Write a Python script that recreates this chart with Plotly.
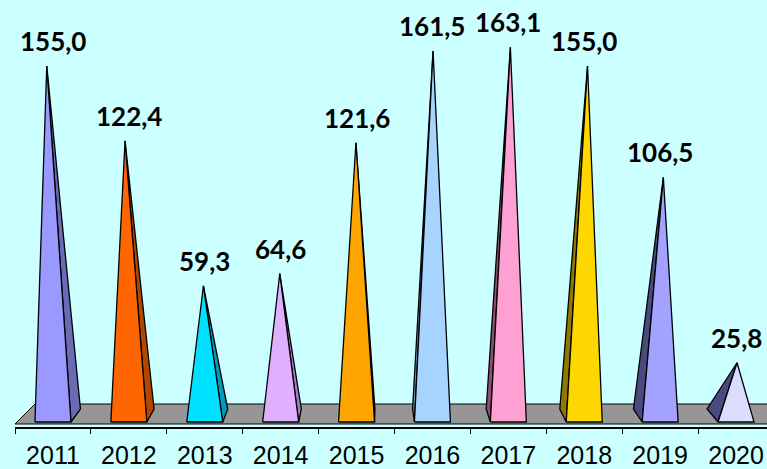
import plotly.graph_objects as go

# ---- data ----
years = ["2011", "2012", "2013", "2014", "2015", "2016", "2017", "2018", "2019", "2020"]
values = [155.0, 122.4, 59.3, 64.6, 121.6, 161.5, 163.1, 155.0, 106.5, 25.8]

front_colors = ["#9999ff", "#ff6600", "#00e0ff", "#e0b0ff", "#ffa500",
                "#a6d4ff", "#ffa0d4", "#ffd700", "#a3a3ff", "#dcdcff"]
side_colors = ["#6b6bb5", "#b34700", "#009dba", "#a97cc8", "#b37400",
               "#6f93b8", "#8c4f70", "#8f7700", "#4a4a80", "#4a4a80"]

# ---- geometry (pixel-based styling converted into axis units) ----
W, H = 767, 469
ML, MR, MT, MB = 15, 0, 0, 42
PX_X = 75.9          # pixels per category
PX_Y = 2.297         # pixels per value unit
BASE_PX = 422        # pixel row of value 0
plot_w = W - ML - MR
plot_h = H - MT - MB
x_range = [-0.5, -0.5 + plot_w / PX_X]
y_range = [-(MT + plot_h - BASE_PX) / PX_Y, (BASE_PX - MT) / PX_Y]


def px_x(dpx):
    return dpx / PX_X


def px_y(dpx):
    return dpx / PX_Y


fig = go.Figure()

# floor (grey 3D slab)
n = len(years)
floor_x = [-0.5, n - 0.5 + px_x(19), n - 0.5 + px_x(0), -0.5 + px_x(20), -0.5]
floor_y = [px_y(-2), px_y(-2), px_y(18), px_y(18), px_y(-2)]
fig.add_trace(go.Scatter(x=floor_x, y=floor_y, mode="lines", fill="toself",
                         fillcolor="#969696", line=dict(color="#000000", width=1),
                         hoverinfo="skip", showlegend=False))

half = px_x(18)
for i, v in enumerate(values):
    cx_px = ML + PX_X * (i + 0.5)
    dx = px_x(-0.03 * (cx_px - 370))
    dy = px_y(13)
    lean = px_x(5e-5 * (cx_px - 400) * v * PX_Y)
    apex = (i + lean, v)
    left, right = i - half, i + half
    # side face
    if dx >= 0:
        sx = [right, right + dx, apex[0], right]
        sy = [0, dy, apex[1], 0]
    else:
        sx = [left, left + dx, apex[0], left]
        sy = [0, dy, apex[1], 0]
    fig.add_trace(go.Scatter(x=sx, y=sy, mode="lines", fill="toself",
                             fillcolor=side_colors[i],
                             line=dict(color="#000000", width=1.3),
                             hoverinfo="skip", showlegend=False))
    # front face
    fig.add_trace(go.Scatter(x=[left, right, apex[0], left], y=[0, 0, apex[1], 0],
                             mode="lines", fill="toself", fillcolor=front_colors[i],
                             line=dict(color="#000000", width=1.3),
                             hoverinfo="skip", showlegend=False))
    fig.add_annotation(x=i, y=v, text="<b>" + f"{v:.1f}".replace(".", ",") + "</b>",
                       showarrow=False, yanchor="bottom", yshift=7,
                       font=dict(family="Lato", size=26, color="#000000"))

fig.update_layout(
    width=W, height=H,
    margin=dict(l=ML, r=MR, t=MT, b=MB, pad=0, autoexpand=False),
    paper_bgcolor="#ccffff", plot_bgcolor="#ccffff",
    xaxis=dict(range=x_range, tickmode="array", tickvals=list(range(n)), ticktext=years,
               ticks="", showgrid=False, zeroline=False, showline=True,
               linecolor="#000000", linewidth=1.5, automargin=False,
               ticklabelstandoff=5,
               tickfont=dict(family="Liberation Sans", size=25, color="#000000"),
               minor=dict(tickmode="array", tickvals=[k - 0.5 for k in range(n + 1)],
                          ticks="outside", ticklen=5, tickwidth=1, tickcolor="#000000",
                          showgrid=False),
               fixedrange=True),
    yaxis=dict(range=y_range, visible=False, showgrid=False, zeroline=False,
               automargin=False, fixedrange=True),
    showlegend=False,
)

fig.write_html("out.html",
               config={"displayModeBar": False},
               post_script="document.body.style.margin='0px';"
                           "document.body.style.background='#ccffff';")
